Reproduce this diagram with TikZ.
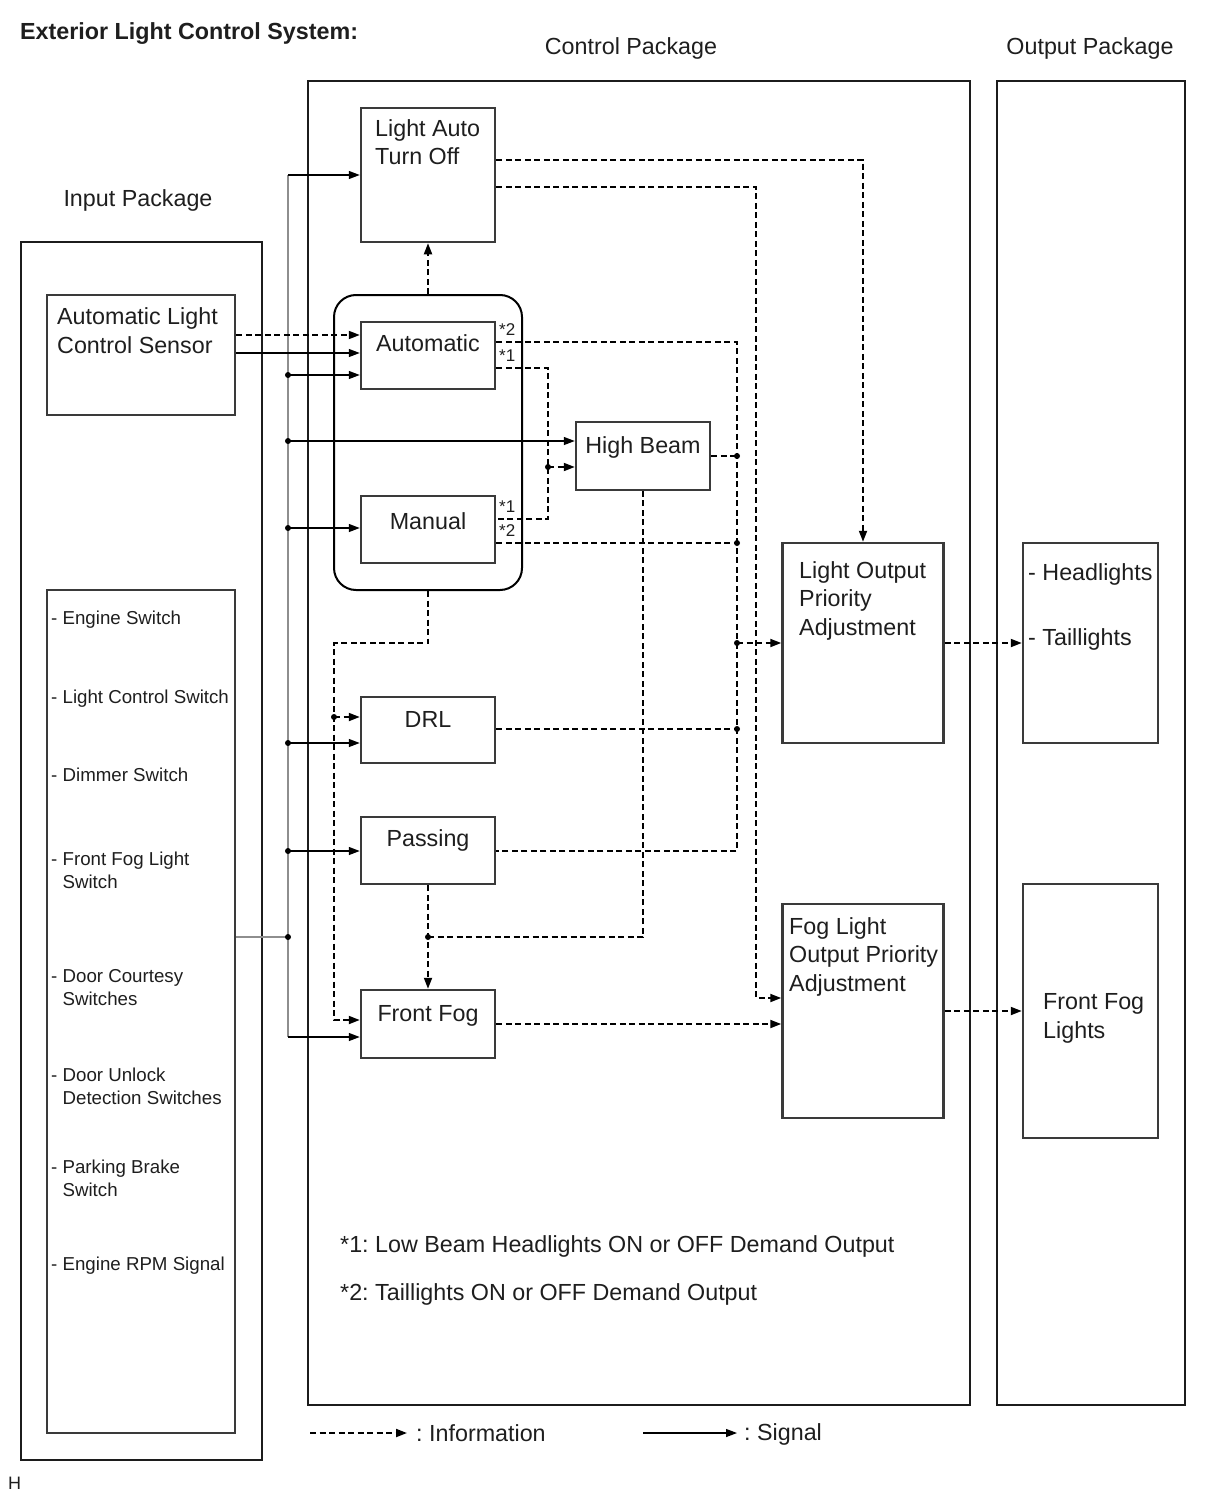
\documentclass[tikz,border=0pt]{standalone}
\usepackage{fontspec}
\setmainfont{Liberation Sans}
\usetikzlibrary{arrows.meta,positioning}
\definecolor{boxc}{HTML}{3A3A3A}
\definecolor{pkgc}{HTML}{1C1C1C}
\definecolor{txtc}{HTML}{1E1E1E}
\definecolor{busc}{HTML}{8E8E8E}
\frenchspacing
\newcommand{\boxfont}{\fontsize{23.3}{28.3}\selectfont}
\newcommand{\listfont}{\fontsize{18.7}{22.5}\selectfont}
\newcommand{\starfont}{\fontsize{17}{19}\selectfont}
\tikzset{
  pkg/.style={draw=pkgc, line width=2pt, inner sep=0pt},
  box/.style={draw=boxc, line width=2.5pt, inner sep=0pt},
  txt/.style={font=\boxfont, text=txtc, inner sep=0pt, align=left},
  lst/.style={font=\listfont, text=txtc, inner sep=0pt, align=left, anchor=base west},
  star/.style={font=\starfont, text=txtc, inner sep=0pt, anchor=west},
  info/.style={draw=black, line width=1.9pt, dash pattern=on 6pt off 3.5pt},
  sig/.style={draw=black, line width=1.3pt},
  bus/.style={draw=busc, line width=2pt},
}
\begin{document}
\begin{tikzpicture}[x=1pt, y=-1pt, >={Triangle[length=11pt,width=8pt]}, line join=miter]
	\useasboundingbox (0,0) rectangle (1210,1498);
	% packages
	\node[pkg, minimum width=241pt, minimum height=1218pt] (inpkg) at (141.5,851) {};
	\node[pkg, minimum width=662pt, minimum height=1324pt] (ctrl) at (639,743) {};
	\node[pkg, minimum width=188pt, minimum height=1324pt] (outpkg) at (1091,743) {};
	\node[txt, font=\boxfont\bfseries, anchor=base west] (title) at (20,40) {Exterior Light Control System:};
	\node[txt, anchor=base] (ctrl-t) at (631,55) {Control Package};
	\node[txt, anchor=base] (out-t) at (1090,55) {Output Package};
	\node[txt, anchor=base] (in-t) at (138,207) {Input Package};
	% input package (multi-line texts sit on their last baseline)
	\node[box, minimum width=188pt, minimum height=120pt] (sensor) at (141,355) {};
	\node[txt, anchor=base west] (sensor-t) at (57,353) {Automatic Light\\Control Sensor};
	\node[box, minimum width=188pt, minimum height=843pt] (swl) at (141,1011.5) {};
	\node[lst] (sw1) at (51,624) {- Engine Switch};
	\node[lst] (sw2) at (51,703) {- Light Control Switch};
	\node[lst] (sw3) at (51,781) {- Dimmer Switch};
	\node[lst] (sw4) at (51,888) {- Front Fog Light\\\hphantom{-\ }Switch};
	\node[lst] (sw5) at (51,1005) {- Door Courtesy\\\hphantom{-\ }Switches};
	\node[lst] (sw6) at (51,1104) {- Door Unlock\\\hphantom{-\ }Detection Switches};
	\node[lst] (sw7) at (51,1196) {- Parking Brake\\\hphantom{-\ }Switch};
	\node[lst] (sw8) at (51,1270) {- Engine RPM Signal};
	% control package
	\node[box, minimum width=134pt, minimum height=134pt] (lato) at (428,175) {};
	\node[txt, anchor=base west] (lato-t) at (375,165) {Light Auto\\Turn Off};
	\node[draw=black, line width=2pt, rounded corners=22pt, minimum width=188pt, minimum height=295pt] (mode) at (428,442.5) {};
	\node[box, minimum width=134pt, minimum height=67pt] (auto) at (428,355.5) {};
	\node[txt, anchor=base] (auto-t) at (428,351) {Automatic};
	\node[box, minimum width=134pt, minimum height=67pt] (man) at (428,529.5) {};
	\node[txt, anchor=base] (man-t) at (428,529) {Manual};
	\node[star] (s2a) at (499,330) {*2};
	\node[star] (s1a) at (499,356) {*1};
	\node[star] (s1m) at (499,507) {*1};
	\node[star] (s2m) at (499,531) {*2};
	\node[box, minimum width=134pt, minimum height=68pt] (hib) at (643,456) {};
	\node[txt, anchor=base] (hib-t) at (643,453) {High Beam};
	\node[box, minimum width=134pt, minimum height=66pt] (drl) at (428,730) {};
	\node[txt, anchor=base] (drl-t) at (428,727) {DRL};
	\node[box, minimum width=134pt, minimum height=67pt] (pass) at (428,850.5) {};
	\node[txt, anchor=base] (pass-t) at (428,846) {Passing};
	\node[box, minimum width=134pt, minimum height=68pt] (ffog) at (428,1024) {};
	\node[txt, anchor=base] (ffog-t) at (428,1021) {Front Fog};
	\node[box, minimum width=161pt, minimum height=200pt] (lopa) at (863,643) {};
	\node[txt, anchor=base west] (lopa-t) at (799,635) {Light Output\\Priority\\Adjustment};
	\node[box, minimum width=161pt, minimum height=214pt] (flopa) at (863,1011) {};
	\node[txt, anchor=base west] (flopa-t) at (789,991) {Fog Light\\Output Priority\\Adjustment};
	\node[txt, anchor=base west] (note1) at (340,1252) {*1: Low Beam Headlights ON or OFF Demand Output};
	\node[txt, anchor=base west] (note2) at (340,1300) {*2: Taillights ON or OFF Demand Output};
	% output package
	\node[box, minimum width=135pt, minimum height=200pt] (heads) at (1090.5,643) {};
	\node[txt, anchor=base west] (heads-t) at (1028,580) {- Headlights};
	\node[txt, anchor=base west] (tails-t) at (1028,645) {- Taillights};
	\node[box, minimum width=135pt, minimum height=254pt] (fogl) at (1090.5,1011) {};
	\node[txt, anchor=base west] (fogl-t) at (1043,1038) {Front Fog\\Lights};
	% signal lines from the switches
	\coordinate (busT) at (288,175);
	\coordinate (busB) at (288,1037);
	\draw[bus] (swl.east |- 0,937) -- (288,937);
	\draw[bus] (busT) -- (busB);
	\draw[sig,->] (busT) -- (lato.west |- busT);
	\draw[sig,->] (busB) -- (ffog.west |- busB);
	\foreach \y/\n in {375/auto, 441/hib, 528/man, 743/drl, 851/pass} {
		\fill (288,\y) circle (3pt);
		\draw[sig,->] (288,\y) -- (\n.west |- 0,\y);
	}
	\fill (288,937) circle (3pt);
	\draw[info,->] (sensor.east |- 0,335) -- (auto.west |- 0,335);
	\draw[sig,->] (sensor.east |- 0,353) -- (auto.west |- 0,353);
	% information lines
	\draw[info] (auto.east |- 0,342) -- (737,342) -- (737,851) -- (pass.east |- 0,851);
	\draw[info] (man.east |- 0,543) -- (737,543);
	\draw[info] (hib.east) -- (737,456);
	\draw[info] (drl.east |- 0,729) -- (737,729);
	\draw[info,->] (737,643) -- (lopa.west);
	\foreach \y in {456,543,643,729} \fill (737,\y) circle (3pt);
	\draw[info] (auto.east |- 0,368) -- (548,368) -- (548,519) -- (man.east |- 0,519);
	\fill (548,467) circle (3pt);
	\draw[info,->] (548,467) -- (hib.west |- 0,467);
	\draw[info,->] (lato.east |- 0,160) -- (lopa.north |- 0,160) -- (lopa.north);
	\draw[info,->] (lato.east |- 0,187) -- (756,187) -- (756,998) -- (flopa.west |- 0,998);
	\draw[info,->] (mode.north) -- (lato.south);
	\draw[info,->] (mode.south) -- (428,643) -- (334,643) -- (334,1020) -- (ffog.west |- 0,1020);
	\fill (334,717) circle (3pt);
	\draw[info,->] (334,717) -- (drl.west |- 0,717);
	\draw[info,->] (pass.south) -- (ffog.north);
	\fill (428,937) circle (3pt);
	\draw[info] (428,937) -- (643,937) -- (hib.south);
	\draw[info,->] (ffog.east) -- (flopa.west |- ffog.east);
	\draw[info,->] (lopa.east) -- (heads.west);
	\draw[info,->] (flopa.east) -- (fogl.west |- flopa.east);
	% legend
	\coordinate (leg1a) at (310,1433);
	\coordinate (leg1b) at (407,1433);
	\coordinate (leg2a) at (643,1433);
	\coordinate (leg2b) at (737,1433);
	\draw[info,->] (leg1a) -- (leg1b);
	\node[txt, anchor=base west] (leg1-t) at (416,1441) {: Information};
	\draw[sig,->] (leg2a) -- (leg2b);
	\node[txt, anchor=base west] (leg2-t) at (744,1440) {: Signal};
	\node[txt, font=\fontsize{18}{20}\selectfont, anchor=base west] (hmark) at (8,1489) {H};
\end{tikzpicture}
\end{document}
